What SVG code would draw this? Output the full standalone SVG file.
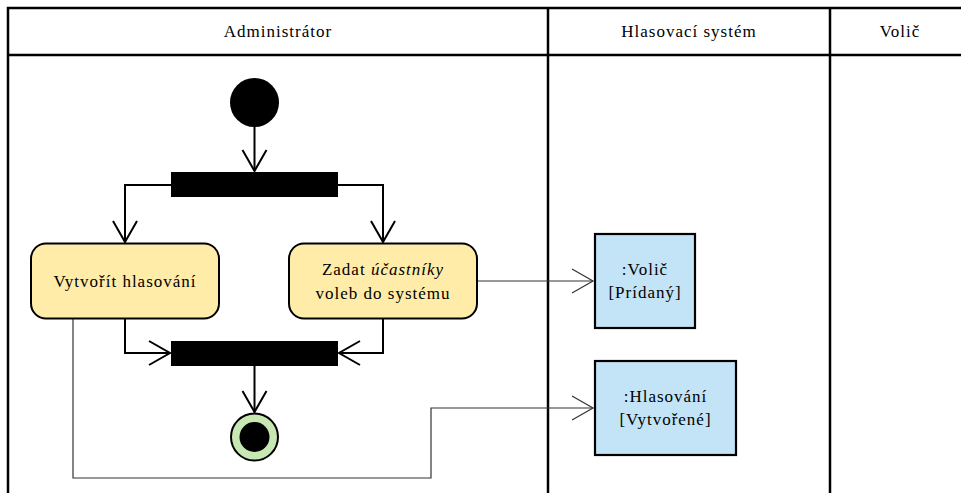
<svg xmlns="http://www.w3.org/2000/svg" width="961" height="493" viewBox="0 0 961 493">
  <style>
    text { font-family: 'Liberation Serif', 'DejaVu Serif', serif; font-size: 17px; fill: #000; text-anchor: middle; letter-spacing: 1px; }
    .lane { fill: none; stroke: #000; stroke-width: 2.5; }
    .action { fill: #FFECA8; stroke: #000; stroke-width: 2; }
    .object { fill: #C3E4F6; stroke: #000; stroke-width: 2.2; }
    .bar { fill: #000; }
    .flow { fill: none; stroke: #000; stroke-width: 2; }
    .objflow { fill: none; stroke: #333; stroke-width: 1.2; }
  </style>
  <defs>
    <marker id="open" viewBox="0 0 24 28" refX="22" refY="14" markerWidth="24" markerHeight="28" markerUnits="userSpaceOnUse" orient="auto">
      <path d="M1,2 L22,14 L1,26" fill="none" stroke="#000" stroke-width="2"/>
    </marker>
    <marker id="openThin" viewBox="0 0 24 28" refX="22" refY="14" markerWidth="24" markerHeight="28" markerUnits="userSpaceOnUse" orient="auto">
      <path d="M1,2 L22,14 L1,26" fill="none" stroke="#333" stroke-width="1.2"/>
    </marker>
  </defs>
  <rect width="961" height="493" fill="#fff"/>

  <!-- swimlanes -->
  <g id="swimlanes">
    <path class="lane" d="M8,493 V8 H961 M8,55 H961 M548,8 V493 M830,8 V493"/>
    <text x="278" y="37">Administrátor</text>
    <text x="689" y="37">Hlasovací systém</text>
    <text x="900" y="37">Volič</text>
  </g>

  <!-- control and object flows -->
  <g id="connectors">
    <path class="flow" d="M254.5,127 V171" marker-end="url(#open)"/>
    <path class="flow" d="M171,185 H125 V242" marker-end="url(#open)"/>
    <path class="flow" d="M338,185 H383 V242" marker-end="url(#open)"/>
    <path class="flow" d="M125,318 V353 H170" marker-end="url(#open)"/>
    <path class="flow" d="M383,318 V353 H339" marker-end="url(#open)"/>
    <path class="flow" d="M254.5,366 V412" marker-end="url(#open)"/>
    <path class="objflow" d="M477,281 H593" marker-end="url(#openThin)"/>
    <path class="objflow" d="M73,318 V478 H431 V408 H593" marker-end="url(#openThin)"/>
  </g>

  <g id="initial">
    <circle cx="254.5" cy="102.5" r="24.5" fill="#000"/>
  </g>

  <g id="fork">
    <rect class="bar" x="171" y="172" width="167" height="25"/>
  </g>

  <g id="create-vote">
    <rect class="action" x="31" y="243.5" width="188" height="75" rx="15"/>
    <text x="125" y="287">Vytvořít hlasování</text>
  </g>

  <g id="add-voters">
    <rect class="action" x="289" y="243.5" width="188" height="75" rx="15"/>
    <text x="383" y="275">Zadat <tspan font-style="italic">účastníky</tspan></text>
    <text x="383" y="299">voleb do systému</text>
  </g>

  <g id="join">
    <rect class="bar" x="171" y="341" width="167" height="25"/>
  </g>

  <g id="final">
    <circle cx="254.5" cy="437" r="23.5" fill="#C7E8B2" stroke="#000" stroke-width="2"/>
    <circle cx="254.5" cy="437" r="15" fill="#000"/>
  </g>

  <g id="voter-object">
    <rect class="object" x="595" y="234" width="100" height="94"/>
    <text x="645" y="275">:Volič</text>
    <text x="645" y="298">[Prídaný]</text>
  </g>

  <g id="vote-object">
    <rect class="object" x="595" y="361" width="141" height="94"/>
    <text x="665.5" y="402">:Hlasování</text>
    <text x="665.5" y="425">[Vytvořené]</text>
  </g>
</svg>
